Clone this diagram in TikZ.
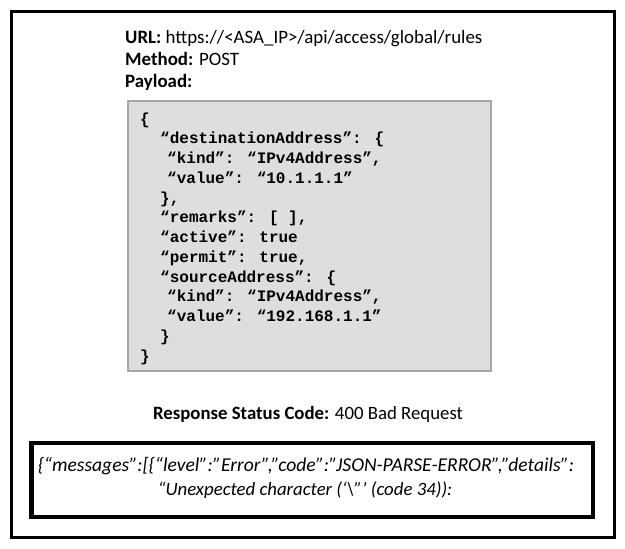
\documentclass[tikz,border=0pt]{standalone}
\usepackage{fontspec}
\setmainfont{Carlito}
\newfontfamily\codefont{Liberation Mono}
\definecolor{boxgrey}{RGB}{222,222,222}
\definecolor{boxedge}{RGB}{168,168,168}
\tikzset{
  hdr/.style={anchor=base west, inner sep=0pt, font=\fontsize{18.9}{22}\selectfont},
  codeline/.style={anchor=base west, inner sep=0pt, font=\codefont\bfseries\fontsize{16}{19}\selectfont},
  errline/.style={anchor=base, inner sep=0pt, font=\itshape\fontsize{19.6}{22}\selectfont},
  statusline/.style={anchor=base, inner sep=0pt, font=\fontsize{18.8}{22}\selectfont},
  outerframe/.style={draw=black, line width=2.6pt},
  codebox/.style={draw=boxedge, fill=boxgrey, line width=2pt},
  errbox/.style={draw=black, line width=4.2pt}
}
\begin{document}
\begin{tikzpicture}[x=1pt,y=-1pt]
\useasboundingbox (0,0) rectangle (625,549);
\fill[white] (0,0) rectangle (625,549);
\draw[outerframe] (11.5,11.5) rectangle (614.5,537.3);
\node[hdr] (url) at (125,43) {\textbf{URL:} https://<ASA\_IP>/api/access/global/rules};
\node[hdr] (method) at (125,65) {\textbf{Method:} POST};
\node[hdr] (payload) at (125,87) {\textbf{Payload:}};
\draw[codebox] (128,101) rectangle (491,371);
\node[codeline] (c1) at (140,124) {\{};
\node[codeline] (c2) at (160,143.75) {“destinationAddress”: \{};
\node[codeline] (c3) at (167,163.5) {“kind”: “IPv4Address”,};
\node[codeline] (c4) at (167,183.25) {“value”: “10.1.1.1”};
\node[codeline] (c5) at (160,203) {\},};
\node[codeline] (c6) at (160,222.75) {“remarks”: [ ],};
\node[codeline] (c7) at (160,242.5) {“active”: true};
\node[codeline] (c8) at (160,262.25) {“permit”: true,};
\node[codeline] (c9) at (160,282) {“sourceAddress”: \{};
\node[codeline] (c10) at (167,301.75) {“kind”: “IPv4Address”,};
\node[codeline] (c11) at (167,321.5) {“value”: “192.168.1.1”};
\node[codeline] (c12) at (160,341.25) {\}};
\node[codeline] (c13) at (140,361) {\}};
\node[statusline] (status) at (308,419) {\textbf{Response Status Code:} 400 Bad Request};
\draw[errbox] (31.5,443) rectangle (593,517);
\node[errline] (e1) at (306,471) {\{“messages”:[\{“level”:”Error”,”code”:”JSON-PARSE-ERROR”,”details”:};
\node[errline, font=\itshape\fontsize{18.8}{22}\selectfont] (e2) at (305,495) {“Unexpected character (‘\textbackslash”’ (code 34)):};
\end{tikzpicture}
\end{document}
